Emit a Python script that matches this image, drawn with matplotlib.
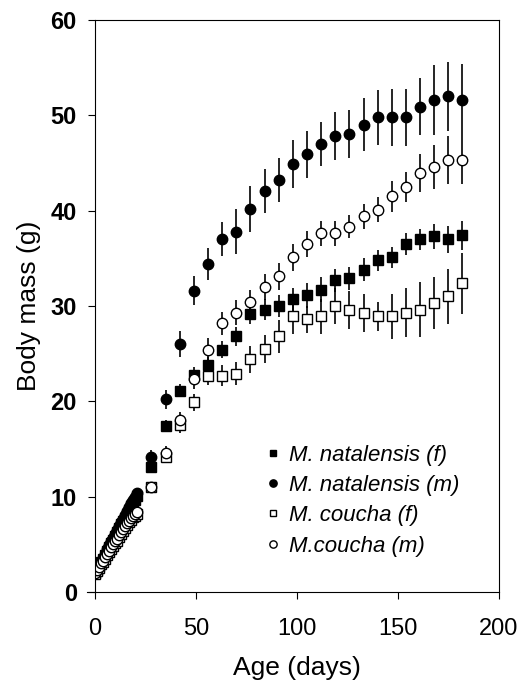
import matplotlib
matplotlib.use("Agg")
import matplotlib.pyplot as plt

plt.rcParams['font.family'] = ['Liberation Sans', 'DejaVu Sans']

# Age (days): daily for the first three weeks, then weekly
days = [0, 1, 2, 3, 4, 5, 6, 7, 8, 9, 10, 11, 12, 13, 14, 15, 16, 17, 18, 19, 20, 21,
        28, 35, 42, 49, 56, 63, 70, 77, 84, 91, 98, 105, 112, 119, 126, 133, 140,
        147, 154, 161, 168, 175, 182]

# M. natalensis, females
nat_f = [2.0, 2.3, 2.7, 3.1, 3.5, 3.9, 4.3, 4.7, 5.1, 5.5, 5.9, 6.3, 6.7, 7.1, 7.4, 7.8,
         8.2, 8.6, 9.0, 9.3, 9.7, 10.1,
         13.1, 17.4, 21.1, 22.8, 23.8, 25.4, 26.8, 29.2, 29.6, 30.0, 30.7, 31.1, 31.7,
         32.7, 32.9, 33.8, 34.8, 35.1, 36.5, 37.0, 37.3, 37.0, 37.4]
nat_f_err = [0.1, 0.1, 0.1, 0.1, 0.1, 0.2, 0.2, 0.2, 0.2, 0.2, 0.2, 0.3, 0.3, 0.3, 0.3,
             0.3, 0.3, 0.3, 0.4, 0.4, 0.4, 0.4,
             0.5, 0.6, 0.7, 0.8, 0.8, 0.9, 1.0, 1.1, 1.1, 1.2, 1.2, 1.3, 1.3, 1.2, 1.2,
             1.2, 1.1, 1.1, 1.2, 1.1, 1.3, 1.4, 1.5]

# M. natalensis, males
nat_m = [2.0, 2.4, 2.8, 3.2, 3.6, 4.0, 4.5, 4.9, 5.3, 5.7, 6.1, 6.5, 6.9, 7.3, 7.7, 8.1,
         8.5, 8.9, 9.3, 9.7, 10.0, 10.4,
         14.2, 20.2, 26.0, 31.6, 34.4, 37.0, 37.8, 40.2, 42.1, 43.2, 44.9, 45.9, 47.0,
         47.8, 48.0, 49.0, 49.8, 49.8, 49.8, 50.9, 51.6, 52.0, 51.6]
nat_m_err = [0.1, 0.1, 0.1, 0.1, 0.1, 0.2, 0.2, 0.2, 0.2, 0.2, 0.3, 0.3, 0.3, 0.3, 0.3,
             0.3, 0.4, 0.4, 0.4, 0.4, 0.4, 0.5,
             0.7, 1.0, 1.4, 1.5, 1.7, 1.8, 2.4, 2.4, 2.3, 2.3, 2.5, 2.5, 2.3, 2.5, 2.5,
             2.8, 2.9, 3.0, 3.0, 3.0, 3.7, 3.6, 3.8]

# M. coucha, females
cou_f = [1.9, 2.2, 2.5, 2.9, 3.2, 3.5, 3.9, 4.2, 4.5, 4.8, 5.1, 5.4, 5.8, 6.1, 6.4, 6.7,
         7.0, 7.3, 7.6, 7.9, 8.0, 8.2,
         11.0, 14.2, 17.5, 19.9, 22.7, 22.7, 22.9, 24.4, 25.5, 26.8, 28.9, 28.6, 28.9,
         30.0, 29.6, 29.3, 28.9, 28.9, 29.3, 29.6, 30.3, 31.0, 32.4]
cou_f_err = [0.1, 0.1, 0.1, 0.1, 0.1, 0.1, 0.2, 0.2, 0.2, 0.2, 0.2, 0.2, 0.3, 0.3, 0.3,
             0.3, 0.3, 0.3, 0.3, 0.4, 0.4, 0.4,
             0.4, 0.6, 0.8, 0.9, 1.0, 1.1, 1.2, 1.4, 1.5, 1.7, 1.8, 1.4, 1.8, 1.9, 2.0,
             2.0, 1.5, 2.4, 2.6, 2.9, 2.7, 2.9, 3.2]

# M. coucha, males
cou_m = [2.0, 2.3, 2.6, 3.0, 3.3, 3.7, 4.0, 4.3, 4.7, 5.0, 5.3, 5.6, 6.0, 6.3, 6.6, 6.9,
         7.2, 7.5, 7.8, 8.0, 8.2, 8.4,
         11.0, 14.6, 18.0, 22.3, 25.4, 28.2, 29.3, 30.4, 32.0, 33.1, 35.1, 36.5, 37.6,
         37.6, 38.3, 39.4, 40.1, 41.5, 42.5, 43.9, 44.6, 45.3, 45.3]
cou_m_err = [0.1, 0.1, 0.1, 0.1, 0.1, 0.1, 0.2, 0.2, 0.2, 0.2, 0.2, 0.2, 0.3, 0.3, 0.3,
             0.3, 0.3, 0.3, 0.3, 0.4, 0.4, 0.4,
             0.5, 0.7, 0.9, 1.0, 1.2, 1.2, 1.3, 1.3, 1.4, 1.4, 1.4, 1.4, 1.3, 1.3, 1.2,
             1.3, 1.3, 1.6, 1.6, 2.0, 2.3, 2.5, 2.5]

labels = ["M. natalensis (f)", "M. natalensis (m)", "M. coucha (f)", "M.coucha (m)"]

fig = plt.figure(figsize=(5.24, 6.86), dpi=100)
ax = fig.add_axes([0.181, 0.137, 0.771, 0.834])

series = [
    (nat_f, nat_f_err, 's', 'black', 6.5),
    (nat_m, nat_m_err, 'o', 'black', 7.5),
    (cou_f, cou_f_err, 's', 'white', 6.5),
    (cou_m, cou_m_err, 'o', 'white', 7.5),
]

handles = []
for vals, err, mk, fc, ms in series:
    c = ax.errorbar(days, vals, yerr=err, fmt=mk, ms=ms, mfc=fc, mec='black',
                    mew=1.0, ecolor='black', elinewidth=1.2, capsize=0)
    handles.append(c[0])

ax.set_xlim(0, 200)
ax.set_ylim(0, 60)
ax.set_xticks([0, 50, 100, 150, 200])
ax.set_yticks([0, 10, 20, 30, 40, 50, 60])
ax.tick_params(direction='out', length=5, width=0.8)
ax.tick_params(axis='x', labelsize=17, pad=14)
ax.tick_params(axis='y', labelsize=17, pad=8)
for t in ax.get_yticklabels():
    t.set_fontweight('bold')
for s in ax.spines.values():
    s.set_linewidth(0.8)
# short extension of the x axis line to the left of the y axis
ax.plot([-0.02, 0], [0, 0], color='black', lw=0.8, transform=ax.transAxes, clip_on=False)

ax.set_xlabel("Age (days)", fontsize=19, labelpad=11)
ax.set_ylabel("Body mass (g)", fontsize=19, labelpad=7)

leg = ax.legend(handles, labels, loc='lower left', bbox_to_anchor=(0.425, 0.062),
                frameon=False, prop={'style': 'italic', 'size': 16},
                handlelength=0.6, handletextpad=0.4, labelspacing=0.42,
                borderpad=0, borderaxespad=0, markerscale=0.7)

fig.savefig("out.png", dpi=100)
